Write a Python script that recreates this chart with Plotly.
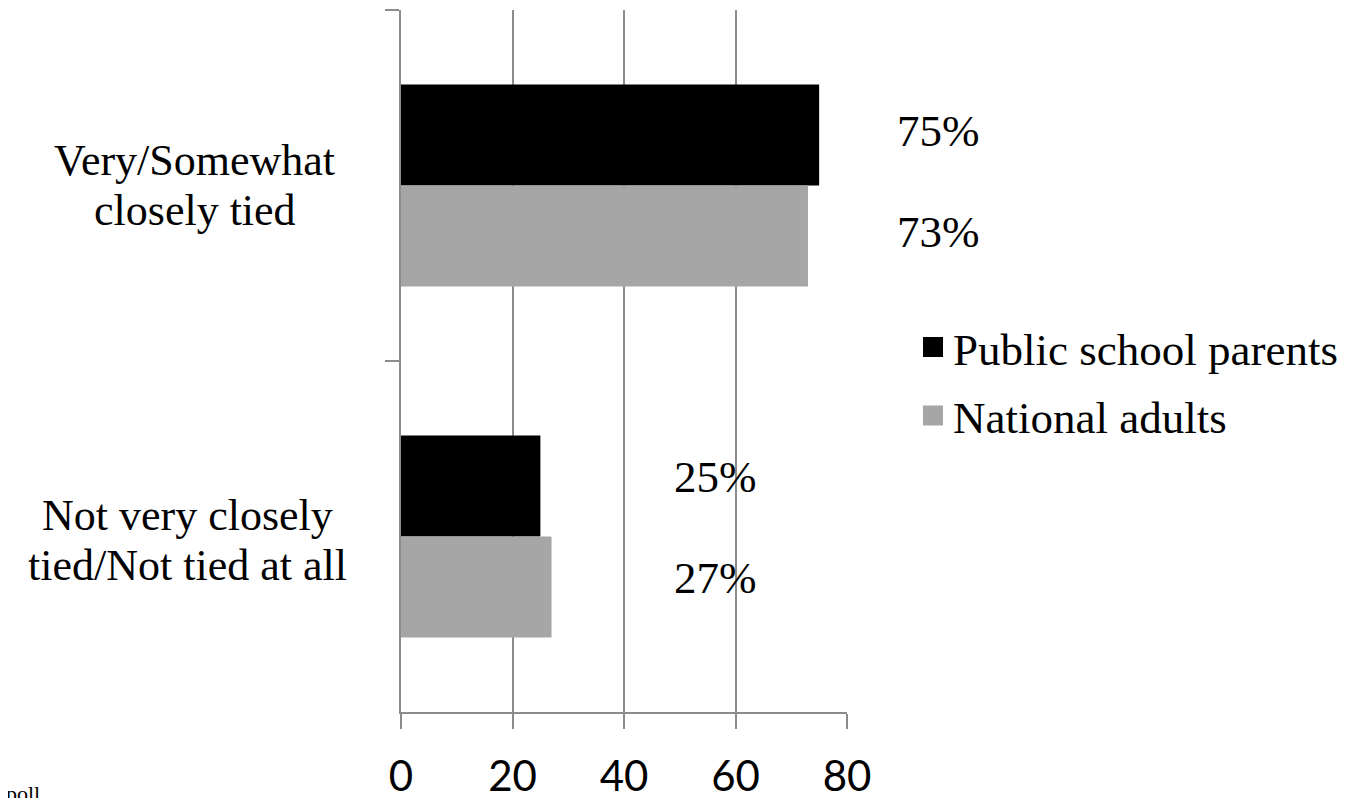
import plotly.graph_objects as go

categories = ["Very/Somewhat<br>closely tied", "Not very closely<br>tied/Not tied at all"]
series_names = ["Public school parents", "National adults"]
parents = [75, 25]
adults = [73, 27]
x_ticks = [0, 20, 40, 60, 80]

colors = ["#000000", "#a6a6a6"]
serif = "Liberation Serif"
sans = "Lato"
grid = "#8c8c8c"

cat_ids = ["c0", "c1"]

fig = go.Figure()
for k, (name, vals, col) in enumerate(zip(series_names, [parents, adults], colors)):
    fig.add_trace(go.Bar(
        y=cat_ids, x=vals, name=name, orientation="h",
        marker=dict(color=col, line=dict(width=0)),
        showlegend=False, hoverinfo="x+name",
    ))
    # legend proxies with larger square swatches
    fig.add_trace(go.Scatter(
        x=[None], y=[None], mode="markers", name=name, legendgroup=f"g{k}",
        marker=dict(symbol="square", size=16, color=col, line=dict(color=col, width=4)),
        showlegend=True,
    ))

annotations = []
# category labels (centered, two lines)
label_x = [-0.462, -0.478]
label_shift = [0, -4]
line_gap = 50
for i, cat in enumerate(categories):
    lines = cat.split("<br>")
    n = len(lines)
    for j, line in enumerate(lines):
        annotations.append(dict(
            x=label_x[i], xref="paper", y=i, yref="y", text=line, showarrow=False,
            xanchor="center", yanchor="middle", align="center",
            yshift=label_shift[i] + ((n - 1) / 2 - j) * line_gap,
            font=dict(family=serif, size=44, color="#000000"),
        ))

# value labels
half = 0.143
val_x = [1.205, 0.706]
val_shift = [4, 9]
for i in range(2):
    annotations.append(dict(
        x=val_x[i], xref="paper", y=i - half, yref="y", text=f"{parents[i]}%",
        showarrow=False, xanchor="center", yanchor="middle", yshift=val_shift[i],
        font=dict(family=serif, size=45, color="#000000"),
    ))
    annotations.append(dict(
        x=val_x[i], xref="paper", y=i + half, yref="y", text=f"{adults[i]}%",
        showarrow=False, xanchor="center", yanchor="middle", yshift=val_shift[i],
        font=dict(family=serif, size=45, color="#000000"),
    ))

# clipped source note at bottom left
annotations.append(dict(
    x=-0.805, xref="paper", y=-0.0954, yref="paper", text="poll",
    showarrow=False, xanchor="right", yanchor="top",
    font=dict(family=serif, size=22, color="#000000"),
))

fig.update_layout(
    width=1365, height=798,
    margin=dict(l=393, r=526, t=2, b=94),
    paper_bgcolor="white", plot_bgcolor="white",
    barmode="group", bargap=0.425, bargroupgap=0,
    showlegend=True,
    legend=dict(
        x=1.148, y=0.471, xanchor="left", yanchor="middle",
        font=dict(family=serif, size=45, color="#000000"),
        tracegroupgap=7, itemwidth=30, bgcolor="rgba(0,0,0,0)",
    ),
    annotations=annotations,
    xaxis=dict(
        range=[0, 80], tickvals=x_ticks, ticktext=[str(t) for t in x_ticks],
        showgrid=True, gridcolor=grid, gridwidth=1.5,
        showline=True, linecolor=grid, linewidth=1.5,
        ticks="outside", ticklen=15, tickcolor=grid, tickwidth=1.5,
        tickfont=dict(family=sans, size=42, color="#000000"),
        ticklabelstandoff=12, zeroline=False, fixedrange=True,
    ),
    yaxis=dict(
        type="category", categoryorder="array", categoryarray=cat_ids,
        autorange="reversed", showticklabels=False,
        showline=True, linecolor=grid, linewidth=1.5,
        ticks="outside", ticklen=14, tickcolor=grid, tickwidth=1.5,
        tickson="boundaries", showgrid=False, zeroline=False, fixedrange=True,
    ),
)

fig.write_html("out.html")
